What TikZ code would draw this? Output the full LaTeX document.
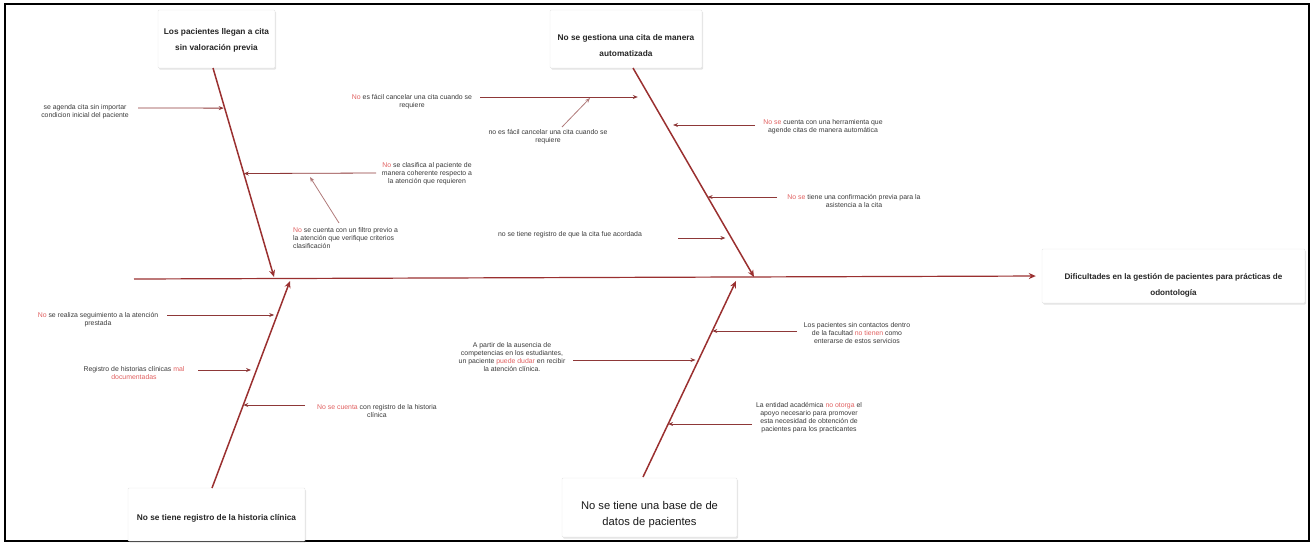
\documentclass[tikz,border=0pt]{standalone}
\usepackage{fontspec}
\setmainfont{Liberation Sans}
\usetikzlibrary{arrows.meta,calc,shadows}
\definecolor{bonecol}{HTML}{9A3030}
\definecolor{cuecol}{HTML}{8E3838}
\definecolor{litecol}{HTML}{B07A7A}
\definecolor{txtcol}{HTML}{3A3A3A}
\definecolor{nocol}{HTML}{E06060}
\newcommand{\nomark}[1]{\textcolor{nocol}{#1}}
\tikzset{
  headbox/.style={fill=white, draw=black!10, line width=0.4pt, rounded corners=1pt,
    drop shadow={opacity=0.22, shadow xshift=1pt, shadow yshift=-1.5pt}},
  headtxt/.style={font=\bfseries\fontsize{8.3}{16}\selectfont, text=black!85, align=center, inner sep=0pt},
  bigtxt/.style={font=\fontsize{11.2}{15.5}\selectfont, text=black!90, align=center, inner sep=0pt},
  lbl/.style={font=\fontsize{6.9}{7.9}\selectfont, text=txtcol, align=center, inner sep=0pt},
  bone/.style={draw=bonecol, line width=1.5pt, -{Stealth[length=7pt,width=6pt]}},
  spine/.style={draw=bonecol, line width=1.2pt, -{Stealth[length=7pt,width=6pt]}},
  cue/.style={draw=cuecol, line width=0.8pt, -{Stealth[length=5pt,width=4pt]}},
  lite/.style={draw=litecol, line width=0.8pt, -{Stealth[length=5pt,width=4pt]}},
}
\begin{document}
\begin{tikzpicture}[x=1pt,y=-1pt]
\useasboundingbox (0,0) rectangle (1312,544);
% outer frame
\draw[line width=2pt, black] (5,4) rectangle (1309,541);

% head (effect) and the four cause boxes
\node[headbox, minimum width=263pt, minimum height=54pt] (eff) at (1173.5,276) {};
\node[headtxt, font=\bfseries\fontsize{8.1}{16}\selectfont] (efftxt) at (1173.5,285)
  {Dificultades en la gestión de pacientes para prácticas de\\odontología};

\node[headbox, minimum width=117pt, minimum height=58pt] (cA) at (216.5,39) {};
\node[headtxt] (cAtxt) at (216.5,40) {Los pacientes llegan a cita\\sin valoración previa};

\node[headbox, minimum width=152pt, minimum height=58pt] (cB) at (626,39) {};
\node[headtxt] (cBtxt) at (626,46) {No se gestiona una cita de manera\\automatizada};

\node[headbox, minimum width=177pt, minimum height=53pt] (cC) at (216.5,514.5) {};
\node[headtxt] (cCtxt) at (216.5,518) {No se tiene registro de la historia clínica};

\node[headbox, minimum width=175pt, minimum height=59pt] (cD) at (649.5,507.5) {};
\node[bigtxt] (cDtxt) at (649.5,514.5) {No se tiene una base de de\\datos de pacientes};

% spine
\coordinate (tail) at (134,279);
\draw[spine, shorten >=6pt] (tail) -- (eff.west);

% bones
\coordinate (a0) at (213,68);   \coordinate (a1) at (274,277);
\coordinate (b0) at (633,68);   \coordinate (b1) at (754,277);
\coordinate (c0) at (212,488);  \coordinate (c1) at (290,281);
\coordinate (d0) at (643,477);  \coordinate (d1) at (736,281);
\draw[bone] (a0) -- (a1);
\draw[bone] (b0) -- (b1);
\draw[bone] (c0) -- (c1);
\draw[bone] (d0) -- (d1);

% points where the cue arrows meet the bones
\coordinate (pa1) at ($(a0)!0.192!(a1)$);
\coordinate (pa2) at ($(a0)!0.505!(a1)$);
\coordinate (pb1) at ($(b0)!0.139!(b1)$);
\coordinate (pb2) at ($(b0)!0.273!(b1)$);
\coordinate (pb3) at ($(b0)!0.617!(b1)$);
\coordinate (pb4) at ($(b0)!0.813!(b1)$);
\coordinate (pc1) at ($(c0)!0.836!(c1)$);
\coordinate (pc2) at ($(c0)!0.565!(c1)$);
\coordinate (pc3) at ($(c0)!0.401!(c1)$);
\coordinate (pd1) at ($(d0)!0.745!(d1)$);
\coordinate (pd2) at ($(d0)!0.597!(d1)$);
\coordinate (pd3) at ($(d0)!0.270!(d1)$);

% ---- first cause
\node[lbl] (t1) at (85,112) {se agenda cita sin importar\\condicion inicial del paciente};
\coordinate (s1) at (138,108);
\draw[cue, shorten >=1pt] (s1) -- (pa1);

\node[lbl] (t2) at (427,174) {\nomark{No} se clasifica al paciente de\\manera coherente respecto a\\la atención que requieren};
\coordinate (s2) at (376,173);
\draw[cue] (s2) -- (pa2);

\node[lbl, align=left, anchor=west] (t3) at (293,238) {\nomark{No} se cuenta con un filtro previo a\\la atención que verifique criterios\\clasificación};
\coordinate (s3) at (339,223);
\coordinate (e3) at (310,177);
\draw[lite] (s3) -- (e3);

% ---- second cause
\node[lbl] (t4) at (412,102) {\nomark{No} es fácil cancelar una cita cuando se\\requiere};
\coordinate (s4) at (480,97);
\draw[cue, shorten >=12pt] (s4) -- (pb1 |- s4);

\node[lbl] (t5) at (548,137) {no es fácil cancelar una cita cuando se\\requiere};
\coordinate (s5) at (562,127);
\coordinate (e5) at (590,98);
\draw[lite] (s5) -- (e5);

\node[lbl] (t6) at (823,127) {\nomark{No se} cuenta con una herramienta que\\agende citas de manera automática};
\coordinate (s6) at (755,125);
\draw[cue, shorten >=7pt] (s6) -- (pb2 |- s6);

\node[lbl] (t7) at (854,201) {\nomark{No se} tiene una confirmación previa para la\\asistencia a la cita};
\coordinate (s7) at (777,197);
\draw[cue] (s7) -- (pb3 |- s7);

\node[lbl] (t8) at (570,235) {no se tiene registro de que la cita fue acordada};
\coordinate (s8) at (678,238);
\draw[cue, shorten >=6pt] (s8) -- (pb4 |- s8);

% ---- third cause
\node[lbl] (t9) at (98,320) {\nomark{No} se realiza seguimiento a la atención\\prestada};
\coordinate (s9) at (167,315);
\draw[cue, shorten >=3pt] (s9) -- (pc1 |- s9);

\node[lbl] (t10) at (134,373) {Registro de historias clínicas \nomark{mal}\\\nomark{documentadas}};
\coordinate (s10) at (198,370);
\draw[cue, shorten >=5pt] (s10) -- (pc2 |- s10);

\node[lbl] (t11) at (377,411) {\nomark{No se cuenta} con registro de la historia\\clínica};
\coordinate (s11) at (305,405);
\draw[cue] (s11) -- (pc3 |- s11);

% ---- fourth cause
\node[lbl] (t12) at (512,357) {A partir de la ausencia de\\competencias en los estudiantes,\\un paciente \nomark{puede dudar} en recibir\\la atención clínica.};
\coordinate (s12) at (573,360);
\draw[cue, shorten >=3pt] (s12) -- (pd2 |- s12);

\node[lbl] (t13) at (857,333) {Los pacientes sin contactos dentro\\de la facultad \nomark{no tienen} como\\enterarse de estos servicios};
\coordinate (s13) at (797,331);
\draw[cue] (s13) -- (pd1 |- s13);

\node[lbl] (t14) at (809,418) {La entidad académica \nomark{no otorga} el\\apoyo necesario para promover\\esta necesidad de obtención de\\pacientes para los practicantes};
\coordinate (s14) at (752,424);
\draw[cue] (s14) -- (pd3 |- s14);
\end{tikzpicture}
\end{document}
